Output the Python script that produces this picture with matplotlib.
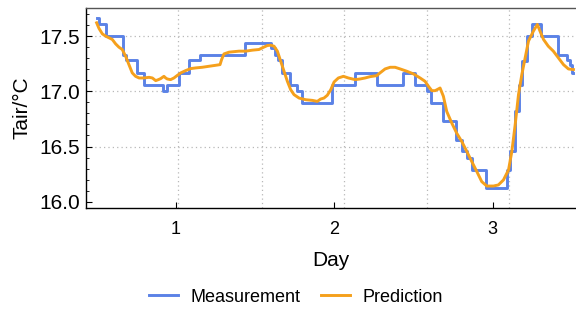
import matplotlib
matplotlib.use('Agg')
import matplotlib.pyplot as plt
from matplotlib.ticker import MultipleLocator, FixedLocator

plt.rcParams['font.family'] = ['Liberation Sans', 'DejaVu Sans']

# measured air temperature (step changes: day, value)
meas_day = [0.501, 0.516, 0.562, 0.668, 0.684, 0.758, 0.802, 0.920, 0.943, 1.019,
            1.086, 1.152, 1.440, 1.604, 1.627, 1.648, 1.673, 1.724, 1.766, 1.800,
            1.985, 2.135, 2.274, 2.436, 2.513, 2.589, 2.610, 2.686, 2.772, 2.808,
            2.838, 2.873, 2.960, 3.094, 3.108, 3.140, 3.165, 3.188, 3.218, 3.250,
            3.308, 3.416, 3.470, 3.488, 3.500, 3.508]
meas_temp = [17.667, 17.606, 17.5, 17.333, 17.28, 17.167, 17.06, 17.0, 17.06, 17.167,
             17.28, 17.333, 17.44, 17.39, 17.333, 17.28, 17.167, 17.06, 17.0, 16.894,
             17.06, 17.167, 17.06, 17.167, 17.06, 17.0, 16.894, 16.727, 16.561, 16.455,
             16.394, 16.288, 16.121, 16.288, 16.455, 16.818, 17.06, 17.273, 17.5, 17.606,
             17.5, 17.333, 17.288, 17.242, 17.167, 17.167]

# model prediction
pred_day = [0.501, 0.516, 0.537, 0.558, 0.579, 0.600, 0.621, 0.642, 0.663, 0.684,
            0.705, 0.726, 0.747, 0.769, 0.800, 0.832, 0.853, 0.874, 0.891, 0.905,
            0.926, 0.937, 0.947, 0.968, 0.989, 1.011, 1.032, 1.063, 1.095, 1.126,
            1.168, 1.210, 1.253, 1.280, 1.290, 1.305, 1.337, 1.400, 1.442, 1.484,
            1.526, 1.547, 1.579, 1.600, 1.621, 1.642, 1.663, 1.684, 1.705, 1.726,
            1.747, 1.779, 1.821, 1.863, 1.894, 1.915, 1.936, 1.957, 1.979, 2.000,
            2.027, 2.059, 2.090, 2.133, 2.164, 2.196, 2.227, 2.269, 2.290, 2.322,
            2.354, 2.385, 2.417, 2.459, 2.501, 2.543, 2.574, 2.596, 2.617, 2.638,
            2.669, 2.690, 2.711, 2.743, 2.774, 2.806, 2.838, 2.869, 2.901, 2.932,
            2.964, 3.006, 3.037, 3.069, 3.101, 3.122, 3.143, 3.164, 3.185, 3.206,
            3.227, 3.258, 3.283, 3.300, 3.322, 3.352, 3.384, 3.416, 3.448, 3.479,
            3.511]
pred_temp = [17.621, 17.570, 17.521, 17.500, 17.485, 17.470, 17.430, 17.400, 17.379, 17.318,
             17.242, 17.167, 17.136, 17.121, 17.121, 17.127, 17.121, 17.097, 17.106, 17.115,
             17.136, 17.121, 17.112, 17.106, 17.121, 17.145, 17.167, 17.188, 17.206, 17.212,
             17.218, 17.227, 17.236, 17.242, 17.288, 17.339, 17.355, 17.364, 17.364, 17.373,
             17.379, 17.394, 17.415, 17.418, 17.409, 17.364, 17.273, 17.182, 17.091, 17.015,
             16.970, 16.939, 16.924, 16.918, 16.909, 16.930, 16.939, 16.964, 17.015, 17.085,
             17.121, 17.136, 17.121, 17.106, 17.112, 17.121, 17.133, 17.142, 17.167, 17.203,
             17.218, 17.218, 17.203, 17.182, 17.158, 17.121, 17.091, 17.045, 17.006, 17.006,
             17.030, 16.955, 16.818, 16.712, 16.621, 16.545, 16.455, 16.364, 16.273, 16.182,
             16.142, 16.142, 16.152, 16.197, 16.288, 16.455, 16.697, 16.970, 17.152, 17.303,
             17.455, 17.545, 17.606, 17.545, 17.470, 17.409, 17.364, 17.303, 17.242, 17.203,
             17.197]

grid_days = [1.013, 1.543, 2.064, 2.588, 3.106]
grid_temps = [16.5, 17.0, 17.5]

fig = plt.figure(figsize=(5.76, 3.09), dpi=100)
ax = fig.add_axes([86/576, 101/309, 490/576, 200/309])

ax.plot(meas_day, meas_temp, drawstyle='steps-post', color='#5b82e6', lw=2.1,
        label='Measurement', zorder=3)
ax.plot(pred_day, pred_temp, color='#f5a01c', lw=2.1, label='Prediction', zorder=4)

ax.set_xlim(0.434, 3.527)
ax.set_ylim(15.943, 17.755)

for d in grid_days:
    ax.axvline(d, color='#b8b8b8', lw=0.9, ls=(0, (1, 2.5)), zorder=1)
for t in grid_temps:
    ax.axhline(t, color='#b8b8b8', lw=0.9, ls=(0, (1, 2.5)), zorder=1)

ax.xaxis.set_major_locator(FixedLocator([1, 2, 3]))
ax.yaxis.set_major_locator(MultipleLocator(0.5))
ax.yaxis.set_minor_locator(MultipleLocator(0.1))
ax.yaxis.set_major_formatter(matplotlib.ticker.FormatStrFormatter('%.1f'))
ax.tick_params(axis='both', which='major', direction='in', length=4, width=0.8)
ax.tick_params(axis='y', which='minor', direction='in', length=2.5, width=0.6)
ax.tick_params(axis='y', labelsize=15, pad=4)
ax.tick_params(axis='x', labelsize=13, pad=9)

ax.spines['right'].set_visible(False)
for s in ['left', 'bottom', 'top']:
    ax.spines[s].set_linewidth(1.0)
ax.spines['top'].set_color('#555555')

ax.set_xlabel('Day', fontsize=15, labelpad=10)
ax.set_ylabel('Tair/°C', fontsize=15, labelpad=6)

fig.legend(loc='center', bbox_to_anchor=(296/576, 1 - 297/309), ncol=2, frameon=False,
           fontsize=13, handlelength=1.6, columnspacing=1.1, handletextpad=0.7)

fig.savefig('out.png', dpi=100)
